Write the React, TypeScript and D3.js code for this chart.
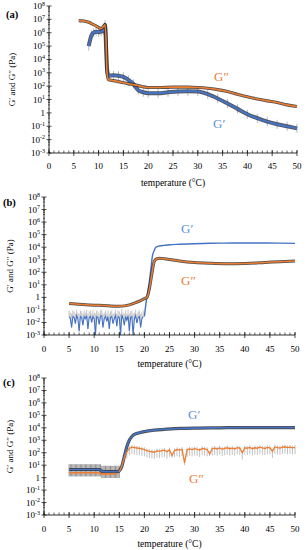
import React from "react";
import * as d3 from "d3";

// ---------- DATA ----------
// Panel (a)
const aGppT = [6, 7, 8, 9, 10, 10.5, 11, 11.3, 11.5, 11.7, 12, 13, 14, 15, 16, 17, 18, 19, 20, 22, 25, 28, 30, 32, 34, 36, 38, 40, 42, 44, 46, 48, 50];
const aGppV = [8e6, 7.5e6, 6e6, 4e6, 2.5e6, 2e6, 3e6, 4e6, 3e5, 1e3, 3e2, 2.6e2, 2.2e2, 1.8e2, 1.5e2, 1.3e2, 1.1e2, 9e1, 8e1, 8e1, 8.5e1, 8.5e1, 8e1, 7e1, 5.5e1, 4e1, 2.5e1, 1.6e1, 1.1e1, 8, 6, 4, 3];
const aGpT = [8, 8.3, 8.6, 9, 9.5, 10, 10.5, 11, 11.3, 11.5, 11.7, 12, 13, 14, 15, 16, 17, 18, 19, 20, 22, 24, 26, 28, 30, 32, 34, 36, 38, 40, 42, 44, 46, 48, 50];
const aGpV = [1e5, 3e5, 7e5, 1e6, 1.2e6, 1.1e6, 1.2e6, 1.5e6, 4e6, 1e5, 2e3, 6e2, 6.5e2, 6e2, 5e2, 3e2, 1.5e2, 5e1, 3.5e1, 3e1, 3e1, 3.5e1, 4e1, 4.2e1, 4e1, 2.5e1, 1.2e1, 5, 2, 8e-1, 4e-1, 2.2e-1, 1.4e-1, 1e-1, 7e-2];

// Panel (b)
const bGpNoiseV = [0.03, 0.02, 0.004, 0.03, 0.025, 0.008, 0.035, 0.02, 0.002, 0.03, 0.025, 0.006, 0.03, 0.02, 0.035, 0.003, 0.025, 0.03, 0.01, 0.03, 0.02, 0.001, 0.03, 0.025, 0.007, 0.03, 0.035, 0.004, 0.02, 0.03, 0.012, 0.03, 0.003, 0.025, 0.03, 0.008, 0.02, 0.035, 0.005, 0.03, 0.025, 0.001, 0.04, 0.02, 0.006, 0.03, 0.015, 0.035, 0.002, 0.025, 0.03, 0.001, 0.02, 0.035, 0.009, 0.025, 0.03, 0.004, 0.02, 0.03];
const bGpRiseT = [20, 20.3, 20.6, 21, 21.3, 21.6, 22, 22.3, 23, 24, 25, 27, 30, 33, 36, 40, 44, 47, 50];
const bGpRiseV = [0.03, 0.3, 2, 20, 200, 2e3, 6e3, 1e4, 1.25e4, 1.4e4, 1.55e4, 1.7e4, 1.9e4, 2.05e4, 2.1e4, 2.15e4, 2.15e4, 2.1e4, 2e4];
const bGppT = [5, 7, 9, 11, 13, 15, 16, 17, 18, 19, 20, 20.5, 21, 21.5, 22, 22.5, 23, 24, 25, 27, 30, 33, 36, 40, 44, 47, 50];
const bGppV = [0.32, 0.28, 0.25, 0.23, 0.21, 0.2, 0.21, 0.25, 0.35, 0.5, 0.8, 1, 5, 80, 800, 1.2e3, 1.3e3, 1.2e3, 1.05e3, 8e2, 6e2, 5.2e2, 4.8e2, 5e2, 6e2, 7e2, 8e2];

// Panel (c)
const cGpT = [5, 7, 9, 11, 11.5, 13, 14.5, 15, 15.5, 16, 16.5, 17, 17.5, 18, 19, 20, 22, 24, 26, 28, 30, 35, 40, 45, 50];
const cGpV = [4.5, 4.5, 4.5, 4.5, 3.2, 3, 3, 3.5, 8, 50, 3e2, 1e3, 2e3, 3e3, 4e3, 5e3, 6.5e3, 7.5e3, 8.5e3, 9e3, 9.5e3, 1e4, 1.05e4, 1.05e4, 1.05e4];
const cGppLowT = [5, 7, 9, 11, 11.5, 13, 14.5];
const cGppLowV = [2.5, 2.5, 2.5, 2.5, 2, 2, 2];
const cGppNoiseV = [3, 8, 40, 120, 220, 280, 260, 240, 220, 200, 180, 150, 130, 120, 110, 140, 130, 150, 160, 120, 170, 60, 150, 180, 160, 190, 15, 170, 200, 180, 210, 190, 160, 220, 200, 180, 80, 210, 230, 200, 240, 190, 220, 250, 210, 230, 200, 260, 240, 100, 250, 230, 270, 210, 250, 230, 280, 240, 220, 270, 250, 130, 290, 260, 240, 280, 300, 260, 280, 250, 270];

const xTicks = [0, 5, 10, 15, 20, 25, 30, 35, 40, 45, 50];
const yExps = [-3, -2, -1, 0, 1, 2, 3, 4, 5, 6, 7, 8];

const BLUE = "#4472c4";
const ORANGE = "#ed7d31";
const LBLUE = "#5a8fd6";
const FONT = "Liberation Serif, DejaVu Serif, serif";

type Pt = [number, number];
const zip = (t: number[], v: number[]): Pt[] => t.map((x, i) => [x, v[i]]);

const bNoiseT = d3.range(bGpNoiseV.length).map((i) => 5 + i * 0.25);
const cNoiseT = d3.range(cGppNoiseV.length).map((i) => 15 + i * 0.5);

interface PanelCfg {
  label: string;
  x0: number; x1: number; yTop: number; yBot: number;
  tickY: number; titleY: number; labelY: number; ytitleX: number;
  gpPos: [number, number]; gppPos: [number, number];
}

const panels: PanelCfg[] = [
  { label: "(a)", x0: 49, x1: 297, yTop: 6, yBot: 153, tickY: 169, titleY: 186, labelY: 18, ytitleX: 15, gpPos: [213, 128], gppPos: [214, 81] },
  { label: "(b)", x0: 44, x1: 295, yTop: 197, yBot: 335, tickY: 352, titleY: 367, labelY: 206, ytitleX: 13, gpPos: [181, 233], gppPos: [181, 285] },
  { label: "(c)", x0: 44, x1: 295, yTop: 378, yBot: 515, tickY: 532, titleY: 547, labelY: 386, ytitleX: 13, gpPos: [188, 419], gppPos: [189, 483] },
];

function Panel({ cfg, idx }: { cfg: PanelCfg; idx: number }) {
  const x = d3.scaleLinear().domain([0, 50]).range([cfg.x0, cfg.x1]);
  const y = d3.scaleLog().domain([1e-3, 1e8]).range([cfg.yBot, cfg.yTop]).clamp(true);
  const line = d3.line<Pt>().x((d) => x(d[0])).y((d) => y(d[1]));
  const curve = d3.line<Pt>().x((d) => x(d[0])).y((d) => y(d[1])).curve(d3.curveMonotoneX);

  const minorX = d3.range(0, 51, 1);
  const minorY: number[] = [];
  for (let e = -3; e < 8; e++) for (let m = 2; m < 10; m += 2) minorY.push(m * Math.pow(10, e));

  const series: React.ReactNode[] = [];
  const errBars = (pts: Pt[], f: number, color: string, key: string) =>
    pts.map((p, i) => (
      <line key={key + i} x1={x(p[0])} x2={x(p[0])} y1={y(p[1] / f)} y2={y(p[1] * f)} stroke={color} strokeWidth={0.6} />
    ));

  if (idx === 0) {
    const gpp = zip(aGppT, aGppV);
    const gp = zip(aGpT, aGpV);
    series.push(
      <g key="a">
        {errBars(gp, 2.2, "#7f8ea8", "ea")}
        <path d={curve(gp) || ""} fill="none" stroke="#222" strokeWidth={4} opacity={0.75} />
        <path d={curve(gp) || ""} fill="none" stroke={BLUE} strokeWidth={2.2} />
        <path d={curve(gpp) || ""} fill="none" stroke="#222" strokeWidth={3.2} opacity={0.8} />
        <path d={curve(gpp) || ""} fill="none" stroke={ORANGE} strokeWidth={1.6} />
      </g>
    );
  } else if (idx === 1) {
    const noise = zip(bNoiseT, bGpNoiseV);
    const rise = zip(bGpRiseT, bGpRiseV);
    const gpp = zip(bGppT, bGppV);
    series.push(
      <g key="b">
        {noise.map((p, i) => (
          <line key={"eb" + i} x1={x(p[0])} x2={x(p[0])} y1={y(p[1])} y2={y(Math.max(p[1] * 3, 0.05))} stroke="#aaa" strokeWidth={0.7} />
        ))}
        <path d={line(noise) || ""} fill="none" stroke={BLUE} strokeWidth={1.1} />
        <path d={curve(rise) || ""} fill="none" stroke={BLUE} strokeWidth={1.4} />
        <path d={curve(gpp) || ""} fill="none" stroke="#222" strokeWidth={3} opacity={0.8} />
        <path d={curve(gpp) || ""} fill="none" stroke={ORANGE} strokeWidth={1.5} />
      </g>
    );
  } else {
    const gp = zip(cGpT, cGpV);
    const low = zip(cGppLowT, cGppLowV);
    const noise = zip(cNoiseT, cGppNoiseV);
    series.push(
      <g key="c">
        {d3.range(5, 15.01, 0.25).map((t, i) => {
          const v = t < 11.3 ? 4 : 3;
          return <line key={"ec" + i} x1={x(t)} x2={x(t)} y1={y(v / 3.2)} y2={y(v * 3)} stroke="#666" strokeWidth={0.7} />;
        })}
        {noise.map((p, i) => (
          <line key={"en" + i} x1={x(p[0])} x2={x(p[0])} y1={y(p[1] / (p[1] < 100 ? 1.5 : 3.5))} y2={y(p[1] * 1.5)} stroke="#999" strokeWidth={0.6} />
        ))}
        <path d={curve(gp) || ""} fill="none" stroke="#222" strokeWidth={3.2} opacity={0.8} />
        <path d={curve(gp) || ""} fill="none" stroke={BLUE} strokeWidth={1.6} />
        <path d={curve(low) || ""} fill="none" stroke={ORANGE} strokeWidth={1.6} />
        <path d={line(noise) || ""} fill="none" stroke={ORANGE} strokeWidth={1.3} />
      </g>
    );
  }

  return (
    <g>
      <text x={cfg.label === "(a)" ? 6 : 3} y={cfg.labelY} fontSize={10.5} fontWeight="bold">{cfg.label}</text>
      <text transform={`translate(${cfg.ytitleX},${(cfg.yTop + cfg.yBot) / 2}) rotate(-90)`} textAnchor="middle" fontSize={9}>
        G′ and G″ (Pa)
      </text>
      {series}
      {/* axes */}
      <line x1={cfg.x0} x2={cfg.x0} y1={cfg.yTop} y2={cfg.yBot} stroke="#000" strokeWidth={0.8} />
      <line x1={cfg.x0} x2={cfg.x1} y1={cfg.yBot} y2={cfg.yBot} stroke="#000" strokeWidth={0.8} />
      {minorY.map((v, i) => (
        <line key={"my" + i} x1={cfg.x0 - 1} x2={cfg.x0 + 1} y1={y(v)} y2={y(v)} stroke="#000" strokeWidth={0.5} />
      ))}
      {yExps.map((e) => (
        <g key={"y" + e}>
          <line x1={cfg.x0 - 2.5} x2={cfg.x0 + 2.5} y1={y(Math.pow(10, e))} y2={y(Math.pow(10, e))} stroke="#000" strokeWidth={0.7} />
          <text x={cfg.x0 - 4} y={y(Math.pow(10, e)) + 3} textAnchor="end" fontSize={9}>
            {e === 0 ? "1" : (
              <>
                10<tspan fontSize={6} dy={-3.5}>{e}</tspan>
              </>
            )}
          </text>
        </g>
      ))}
      {minorX.map((t) => (
        <line key={"mx" + t} x1={x(t)} x2={x(t)} y1={cfg.yBot} y2={cfg.yBot - 2.5} stroke="#000" strokeWidth={0.6} />
      ))}
      {xTicks.map((t) => (
        <g key={"x" + t}>
          <line x1={x(t)} x2={x(t)} y1={cfg.yBot - 3} y2={cfg.yBot + 3} stroke="#000" strokeWidth={0.7} />
          <text x={x(t)} y={cfg.tickY} textAnchor="middle" fontSize={9}>{t}</text>
        </g>
      ))}
      <text x={(cfg.x0 + cfg.x1) / 2} y={cfg.titleY} textAnchor="middle" fontSize={9.5}>temperature (°C)</text>
      <text x={cfg.gpPos[0]} y={cfg.gpPos[1]} fontSize={13} fill={LBLUE}>G′</text>
      <text x={cfg.gppPos[0]} y={cfg.gppPos[1]} fontSize={13} fill={ORANGE}>G″</text>
    </g>
  );
}

export default function App() {
  return (
    <svg width={307} height={550} style={{ position: "absolute", left: 0, top: 0, background: "#fff", fontFamily: FONT }}>
      {panels.map((p, i) => (
        <Panel key={p.label} cfg={p} idx={i} />
      ))}
    </svg>
  );
}
